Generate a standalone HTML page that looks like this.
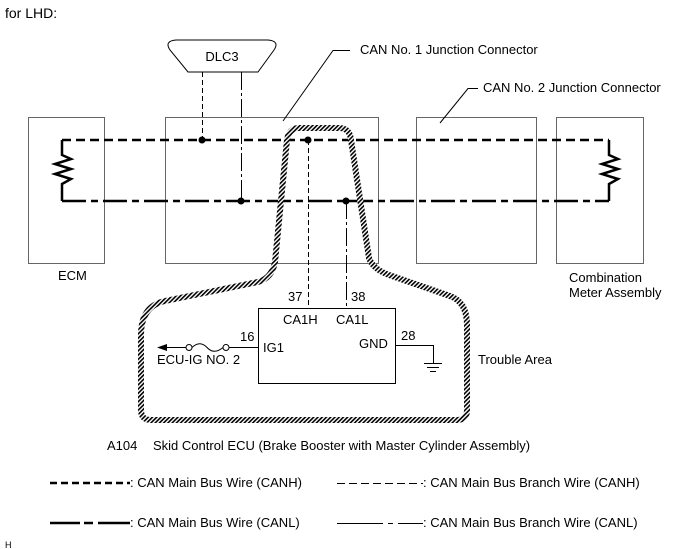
<!DOCTYPE html>
<html><head><style>
body{margin:0;background:#fff;}
svg{display:block;font-family:"Liberation Sans",Arial,sans-serif;}
</style></head><body>
<svg width="673" height="549" viewBox="0 0 673 549">
<defs>
<pattern id="h" width="3" height="3" patternUnits="userSpaceOnUse" patternTransform="rotate(45)">
<rect width="3" height="3" fill="#fff"/><rect width="1.6" height="3" fill="#000"/>
</pattern>
</defs>
<text x="5" y="18" font-size="14">for LHD:</text>
<g fill="none" stroke="#666" stroke-width="1">
<rect x="28.5" y="117.5" width="76" height="146"/>
<rect x="165.5" y="117.5" width="213" height="146"/>
<rect x="416.5" y="117.5" width="120" height="146"/>
<rect x="556.5" y="117.5" width="87" height="146"/>
</g>
<path d="M176,40 L268,40 Q280,41 274,50 L258,72 L188,72 L170,50 Q164,41 176,40 Z" fill="#fff" stroke="#000" stroke-width="1"/>
<text x="222" y="61" font-size="13" text-anchor="middle">DLC3</text>
<line x1="202.5" y1="72" x2="202.5" y2="140" stroke="#000" stroke-width="1" stroke-dasharray="5,3"/>
<line x1="241.5" y1="72" x2="241.5" y2="201" stroke="#000" stroke-width="1" stroke-dasharray="18,3,3,3"/>
<polyline points="283,121 333,50.5 350,50.5" fill="none" stroke="#000" stroke-width="1"/>
<text x="360" y="54" font-size="13">CAN No. 1 Junction Connector</text>
<polyline points="440,123 468,88.5 478,88.5" fill="none" stroke="#000" stroke-width="1"/>
<text x="483" y="92" font-size="13">CAN No. 2 Junction Connector</text>
<line x1="62" y1="140" x2="609" y2="140" stroke="#000" stroke-width="2.5" stroke-dasharray="9,5"/>
<line x1="62" y1="201" x2="609" y2="201" stroke="#000" stroke-width="2.5" stroke-dasharray="24,5,7,5"/>
<g fill="none" stroke="#000" stroke-width="2.5">
<polyline points="62,140 62,155 71,159 55,164 71,169 55,174 71,179 62,184 62,201"/>
<polyline points="609,140 609,155 618,159 602,164 618,169 602,174 618,179 609,184 609,201"/>
</g>
<path d="M299,128 L339,128 Q350,128 351,140 L369,258 Q373,270 392,276 L450,296 Q467,302 467,325 L467,410 Q467,420 457,420 L151,420 Q141,420 141,410 L141,335 Q141,306 165,301 L258,282 Q272,278 275,262 L287,140 Q289,128 299,128 Z" fill="none" stroke="url(#h)" stroke-width="6"/>
<line x1="308.5" y1="140" x2="308.5" y2="308" stroke="#000" stroke-width="1" stroke-dasharray="5,3"/>
<line x1="346.5" y1="201" x2="346.5" y2="308" stroke="#000" stroke-width="1" stroke-dasharray="18,3,3,3"/>
<g fill="#000">
<circle cx="202" cy="140" r="3.5"/><circle cx="241" cy="201" r="3.5"/>
<circle cx="308" cy="140" r="3.5"/><circle cx="346" cy="201" r="3.5"/>
</g>
<rect x="258.5" y="308.5" width="137" height="75" fill="#fff" stroke="#000" stroke-width="1"/>
<g font-size="13">
<text x="288" y="301">37</text>
<text x="351" y="301">38</text>
<text x="283" y="324">CA1H</text>
<text x="336" y="324">CA1L</text>
<text x="263" y="352">IG1</text>
<text x="240" y="341">16</text>
<text x="359" y="348">GND</text>
<text x="401" y="340">28</text>
<text x="157" y="364">ECU-IG NO. 2</text>
<text x="478" y="364">Trouble Area</text>
<text x="58" y="280">ECM</text>
<text x="569" y="282">Combination</text>
<text x="569" y="297">Meter Assembly</text>
<text x="107" y="450">A104</text>
<text x="153" y="450">Skid Control ECU (Brake Booster with Master Cylinder Assembly)</text>
</g>
<g fill="none" stroke="#000" stroke-width="1">
<line x1="258" y1="347.5" x2="229" y2="347.5"/>
<line x1="186" y1="347.5" x2="160" y2="347.5"/>
<circle cx="226" cy="347.5" r="3"/><circle cx="189" cy="347.5" r="3"/>
<path d="M192,347.5 Q200,340 207,347.5 Q214,355 223,347.5"/>
<polyline points="395,345.5 433.5,345.5 433.5,363"/>
<line x1="424" y1="363.5" x2="442" y2="363.5"/>
<line x1="427" y1="367.5" x2="439" y2="367.5"/>
<line x1="430" y1="371.5" x2="436" y2="371.5"/>
</g>
<polygon points="157,347.5 167,344 167,351" fill="#000"/>
<line x1="50" y1="483" x2="130" y2="483" stroke="#000" stroke-width="2.5" stroke-dasharray="7,4"/>
<line x1="337" y1="483.5" x2="423" y2="483.5" stroke="#000" stroke-width="1" stroke-dasharray="8,4"/>
<line x1="50" y1="523" x2="80" y2="523" stroke="#000" stroke-width="2.5"/>
<line x1="84" y1="523" x2="93" y2="523" stroke="#000" stroke-width="2.5"/>
<line x1="98" y1="523" x2="130" y2="523" stroke="#000" stroke-width="2.5"/>
<line x1="337" y1="523.5" x2="383" y2="523.5" stroke="#000" stroke-width="1"/>
<line x1="388" y1="523.5" x2="393" y2="523.5" stroke="#000" stroke-width="1"/>
<line x1="398" y1="523.5" x2="423" y2="523.5" stroke="#000" stroke-width="1"/>
<g font-size="13">
<text x="130" y="487">: CAN Main Bus Wire (CANH)</text>
<text x="423" y="487">: CAN Main Bus Branch Wire (CANH)</text>
<text x="130" y="527">: CAN Main Bus Wire (CANL)</text>
<text x="423" y="527">: CAN Main Bus Branch Wire (CANL)</text>
<text x="5" y="548" font-size="9">H</text>
</g>
</svg>
</body></html>
